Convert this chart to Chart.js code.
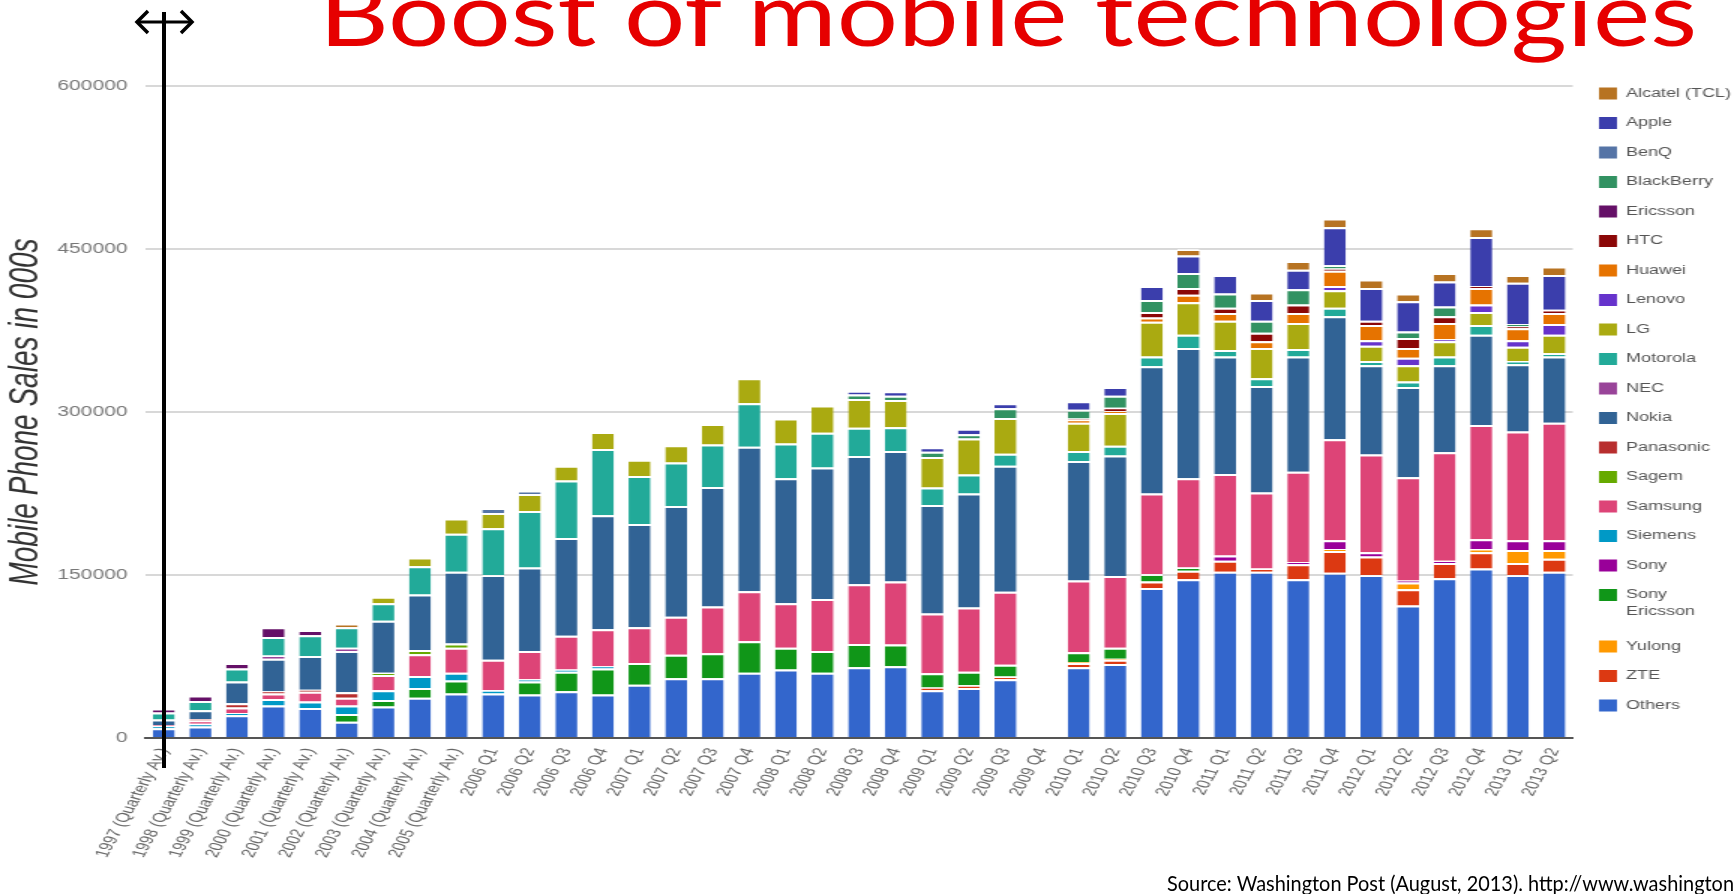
<!DOCTYPE html>
<html>
<head>
<meta charset="utf-8">
<title>Boost of mobile technologies</title>
<script src="https://cdn.jsdelivr.net/npm/chart.js@4.4.0/dist/chart.umd.min.js"></script>
<style>
  html, body {
    margin: 0;
    padding: 0;
    background: #fff;
    width: 1734px;
    height: 894px;
    overflow: hidden;
  }
  #stage {
    position: relative;
    width: 1734px;
    height: 894px;
    overflow: hidden;
  }
  /* the original chart picture was stretched sideways on the slide */
  #stretch {
    position: absolute;
    left: 0;
    top: 0;
    width: 1164px;
    height: 900px;
    transform: scaleX(1.5);
    transform-origin: 0 0;
  }
  #overlay {
    position: absolute;
    left: 0;
    top: 0;
    pointer-events: none;
  }
</style>
</head>
<body>
<div id="stage">
  <div id="stretch"><canvas id="salesChart" width="1164" height="900"></canvas></div>
  <svg id="overlay" width="1734" height="894" xmlns="http://www.w3.org/2000/svg">
    <text x="319" y="46" font-family="Lato, 'Open Sans', sans-serif" font-size="90" fill="#e60000"
          textLength="1378" lengthAdjust="spacingAndGlyphs">Boost of mobile technologies</text>
    <line x1="164" y1="12" x2="164" y2="768" stroke="#000" stroke-width="4"/>
    <line x1="138" y1="22" x2="192" y2="22" stroke="#000" stroke-width="3"/>
    <polyline points="148,11 137,22 148,33" fill="none" stroke="#000" stroke-width="3.5"/>
    <polyline points="181,11 192,22 181,33" fill="none" stroke="#000" stroke-width="3.5"/>
    <text x="1167" y="891" font-family="Lato, 'Open Sans', sans-serif" font-size="21" fill="#000"
          textLength="567" lengthAdjust="spacingAndGlyphs">Source: Washington Post (August, 2013). http://www.washington</text>
  </svg>
</div>

<script>
const periods = [
  "1997 (Quarterly Av.)", "1998 (Quarterly Av.)", "1999 (Quarterly Av.)",
  "2000 (Quarterly Av.)", "2001 (Quarterly Av.)", "2002 (Quarterly Av.)",
  "2003 (Quarterly Av.)", "2004 (Quarterly Av.)", "2005 (Quarterly Av.)",
  "2006 Q1", "2006 Q2", "2006 Q3", "2006 Q4",
  "2007 Q1", "2007 Q2", "2007 Q3", "2007 Q4",
  "2008 Q1", "2008 Q2", "2008 Q3", "2008 Q4",
  "2009 Q1", "2009 Q2", "2009 Q3", "2009 Q4",
  "2010 Q1", "2010 Q2", "2010 Q3", "2010 Q4",
  "2011 Q1", "2011 Q2", "2011 Q3", "2011 Q4",
  "2012 Q1", "2012 Q2", "2012 Q3", "2012 Q4",
  "2013 Q1", "2013 Q2"
];

// sales in thousands, one value per period (bottom of the stack first)
const others = [9000, 10500, 21000, 30000, 27500, 15000, 29000, 37000, 41000,
  41000, 40000, 43000, 40000, 49000, 55000, 55000, 60000, 63000, 60000, 65000, 66000,
  44000, 46000, 54000, 0, 65000, 68000, 138000, 146000, 153000, 153000, 146000, 152000,
  150000, 122000, 147000, 156000, 150000, 153000];
const zte = [0, 0, 0, 0, 0, 0, 0, 0, 0,
  0, 0, 0, 0, 0, 0, 0, 0, 0, 0, 0, 0,
  2500, 2500, 2500, 0, 4000, 4000, 6000, 8000, 10000, 3000, 14000, 20000,
  17000, 15000, 14000, 15000, 11000, 12000];
const yulong = [0, 0, 0, 0, 0, 0, 0, 0, 0,
  0, 0, 0, 0, 0, 0, 0, 0, 0, 0, 0, 0,
  0, 0, 0, 0, 1000, 1000, 0, 0, 0, 0, 0, 2000,
  0, 6000, 0, 3000, 12000, 8000];
const sonyEricsson = [0, 0, 0, 0, 0, 7000, 6000, 9000, 12000,
  0, 12000, 18000, 24000, 20000, 21500, 23000, 29000, 20000, 20000, 21500, 20000,
  13000, 12500, 11000, 0, 9000, 10000, 7000, 3000, 0, 0, 0, 0,
  0, 0, 0, 0, 0, 0];
const sony = [0, 0, 0, 0, 0, 0, 0, 0, 0,
  0, 0, 0, 0, 0, 0, 0, 0, 0, 0, 0, 0,
  0, 0, 0, 0, 0, 0, 0, 0, 5000, 0, 2000, 8000,
  4000, 2000, 2000, 9000, 9000, 9000];
const siemens = [2000, 2500, 2000, 6000, 6000, 8000, 9000, 11000, 7000,
  3000, 2000, 2000, 2000, 0, 0, 0, 0, 0, 0, 0, 0,
  0, 0, 0, 0, 0, 0, 0, 0, 0, 0, 0, 0,
  0, 0, 0, 0, 0, 0];
const samsung = [1000, 3000, 5000, 5000, 9000, 7000, 14000, 20000, 23000,
  28000, 26000, 31000, 34000, 33000, 35000, 43000, 46000, 41000, 48000, 55000, 58000,
  55000, 59000, 67000, 0, 66000, 66000, 74000, 82000, 75000, 70000, 83000, 93000,
  90000, 95000, 100000, 105000, 100000, 108000];
const sagem = [0, 0, 0, 0, 0, 0, 2000, 4000, 4000,
  0, 0, 0, 0, 0, 0, 0, 0, 0, 0, 0, 0,
  0, 0, 0, 0, 0, 0, 0, 0, 0, 0, 0, 0,
  0, 0, 0, 0, 0, 0];
const panasonic = [0, 1500, 4000, 2000, 2000, 5000, 0, 0, 0,
  0, 0, 0, 0, 0, 0, 0, 0, 0, 0, 0, 0,
  0, 0, 0, 0, 0, 0, 0, 0, 0, 0, 0, 0,
  0, 0, 0, 0, 0, 0];
const nokia = [5000, 8000, 20000, 30000, 31000, 38000, 48000, 51000, 66000,
  78000, 77000, 90000, 105000, 95000, 102000, 110000, 133000, 115000, 121000, 118000, 120000,
  100000, 105000, 116000, 0, 110000, 111000, 117000, 120000, 108000, 98000, 106000, 113000,
  82000, 83000, 80000, 83000, 62000, 61000];
const nec = [0, 0, 0, 3000, 0, 3000, 0, 0, 0,
  0, 0, 0, 0, 0, 0, 0, 0, 0, 0, 0, 0,
  0, 0, 0, 0, 0, 0, 0, 0, 0, 0, 0, 0,
  0, 0, 0, 0, 0, 0];
const motorola = [6500, 8500, 12000, 17000, 19000, 19000, 16000, 26000, 35000,
  43000, 52000, 53000, 61000, 44000, 40000, 39000, 40000, 32000, 32000, 26000, 22000,
  16000, 17500, 11000, 0, 9000, 9000, 9000, 12000, 6000, 7000, 7000, 8000,
  4000, 5000, 8000, 9000, 3000, 3000];
const lg = [0, 0, 0, 0, 0, 0, 6000, 8000, 14000,
  14000, 15500, 13500, 15500, 15000, 16000, 19000, 23000, 23000, 25000, 26500, 25000,
  28000, 33000, 33000, 0, 26000, 30000, 32000, 30000, 27000, 28000, 24000, 16000,
  14000, 15000, 14000, 12000, 13000, 17000];
const lenovo = [0, 0, 0, 0, 0, 0, 0, 0, 0,
  0, 0, 0, 0, 0, 0, 0, 0, 0, 0, 0, 0,
  0, 0, 0, 0, 0, 0, 0, 0, 0, 0, 0, 4000,
  5000, 7000, 2000, 7000, 6000, 10000];
const huawei = [0, 0, 0, 0, 0, 0, 0, 0, 0,
  0, 0, 0, 0, 0, 0, 0, 0, 0, 0, 0, 0,
  0, 0, 0, 0, 3000, 2000, 4000, 7000, 7000, 6000, 9000, 14000,
  14000, 9000, 15000, 15000, 11000, 10000];
const htc = [0, 0, 0, 0, 0, 0, 0, 0, 0,
  0, 0, 0, 0, 0, 0, 0, 0, 0, 0, 0, 0,
  0, 0, 0, 0, 1000, 3000, 5000, 6000, 5000, 8000, 8000, 2000,
  4000, 9000, 6000, 2000, 2000, 3000];
const ericsson = [3500, 5000, 5000, 9000, 5000, 0, 0, 0, 0,
  0, 0, 0, 0, 0, 0, 0, 0, 0, 0, 0, 0,
  0, 0, 0, 0, 0, 0, 0, 0, 0, 0, 0, 0,
  0, 0, 0, 0, 0, 0];
const blackberry = [0, 0, 0, 0, 0, 0, 0, 0, 0,
  0, 0, 0, 0, 0, 0, 0, 0, 0, 0, 4000, 4000,
  5000, 4000, 9000, 0, 8000, 11000, 11000, 14000, 13000, 11000, 14000, 3000,
  0, 6000, 9000, 0, 2000, 0];
const benq = [0, 0, 0, 0, 0, 0, 0, 0, 0,
  4600, 3000, 0, 0, 0, 0, 0, 0, 0, 0, 0, 0,
  0, 0, 0, 0, 0, 0, 0, 0, 0, 0, 0, 0,
  0, 0, 0, 0, 0, 0];
const apple = [0, 0, 0, 0, 0, 0, 0, 0, 0,
  0, 0, 0, 0, 0, 0, 0, 0, 0, 0, 3500, 4000,
  4000, 5000, 4600, 0, 8000, 8000, 13000, 16000, 17000, 19000, 18000, 35000,
  30000, 28000, 23000, 45000, 38000, 32000];
const alcatel = [0, 0, 0, 0, 0, 3000, 0, 0, 0,
  0, 0, 0, 0, 0, 0, 0, 0, 0, 0, 0, 0,
  0, 0, 0, 0, 0, 0, 0, 6000, 0, 7000, 8000, 8000,
  8000, 7000, 8000, 8000, 7000, 8000];

const yTicks = [0, 150000, 300000, 450000, 600000];

// stack order, bottom to top (legend shows it reversed)
const series = [
  { label: "Others", data: others, color: "#3366cc" },
  { label: "ZTE", data: zte, color: "#dc3912" },
  { label: "Yulong", data: yulong, color: "#ff9900" },
  { label: "Sony Ericsson", data: sonyEricsson, color: "#109618" },
  { label: "Sony", data: sony, color: "#990099" },
  { label: "Siemens", data: siemens, color: "#0099c6" },
  { label: "Samsung", data: samsung, color: "#dd4477" },
  { label: "Sagem", data: sagem, color: "#66aa00" },
  { label: "Panasonic", data: panasonic, color: "#b82e2e" },
  { label: "Nokia", data: nokia, color: "#316395" },
  { label: "NEC", data: nec, color: "#994499" },
  { label: "Motorola", data: motorola, color: "#22aa99" },
  { label: "LG", data: lg, color: "#aaaa11" },
  { label: "Lenovo", data: lenovo, color: "#6633cc" },
  { label: "Huawei", data: huawei, color: "#e67300" },
  { label: "HTC", data: htc, color: "#8b0707" },
  { label: "Ericsson", data: ericsson, color: "#651067" },
  { label: "BlackBerry", data: blackberry, color: "#329262" },
  { label: "BenQ", data: benq, color: "#5574a6" },
  { label: "Apple", data: apple, color: "#3b3eac" },
  { label: "Alcatel (TCL)", data: alcatel, color: "#b77322" },
];

const datasets = series.map((s) => ({
  label: s.label,
  data: s.data,
  backgroundColor: s.color,
  borderColor: "rgba(255, 255, 255, 0.75)",
  borderWidth: { top: 2, right: 0, bottom: 0, left: 0 },
  barPercentage: 0.6,
  categoryPercentage: 1,
}));

new Chart(document.getElementById("salesChart"), {
  type: "bar",
  data: { labels: periods, datasets: datasets },
  options: {
    responsive: false,
    animation: false,
    devicePixelRatio: 1,
    layout: { padding: { top: 70, right: 0, bottom: 0, left: 0 } },
    scales: {
      x: {
        stacked: true,
        grid: { display: false, drawTicks: false },
        border: { color: "#555", width: 2 },
        ticks: {
          autoSkip: false,
          minRotation: 69,
          maxRotation: 69,
          padding: 8,
          color: "#666",
          font: { family: "Arial", size: 13 },
        },
        afterFit: (scale) => {
          scale.height = 162;
        },
      },
      y: {
        stacked: true,
        min: 0,
        max: 600000,
        afterBuildTicks: (scale) => {
          scale.ticks = yTicks.map((v) => ({ value: v }));
        },
        ticks: {
          padding: 12,
          color: "#777",
          font: { family: "Arial", size: 14 },
          callback: (value) => String(value),
        },
        grid: { color: "#d8d8d8", lineWidth: 2, drawTicks: false },
        border: { display: false },
        title: {
          display: true,
          text: "Mobile Phone Sales in 000s",
          color: "#333",
          padding: 0,
          font: { family: "Arial", size: 28, style: "italic" },
        },
        afterFit: (scale) => {
          scale.width = 97;
        },
      },
    },
    plugins: {
      // empty title only keeps a small gap above the plot
      title: {
        display: true,
        text: "",
        fullSize: false,
        font: { size: 1 },
        padding: { top: 0, bottom: 14.8 },
      },
      legend: {
        position: "right",
        align: "start",
        reverse: true,
        labels: {
          boxWidth: 12,
          boxHeight: 12,
          padding: 17.5,
          color: "#555",
          font: { family: "Arial", size: 12, lineHeight: 1.42 },
          generateLabels: (chart) => {
            const items = Chart.defaults.plugins.legend.labels.generateLabels(chart);
            items.forEach((item) => {
              if (item.text === "Sony Ericsson") {
                item.text = ["Sony", "Ericsson"];
              }
              item.lineWidth = 0;
              item.strokeStyle = item.fillStyle;
            });
            return items;
          },
        },
      },
      tooltip: { enabled: false },
    },
  },
});
</script>
</body>
</html>
